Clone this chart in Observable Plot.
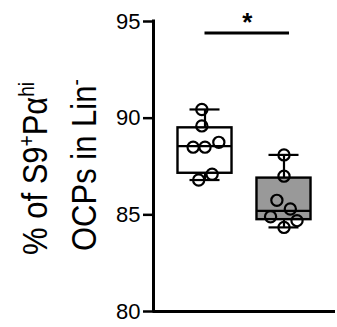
<!DOCTYPE html>
<html>
<head>
<meta charset="utf-8">
<script src="https://cdn.jsdelivr.net/npm/d3@7"></script>
<script src="https://cdn.jsdelivr.net/npm/@observablehq/plot@0.6"></script>
<style>
  html, body { margin: 0; padding: 0; background: #fff; }
  #chart { position: relative; width: 337px; height: 327px; }
  svg { font-family: "Liberation Sans", Arial, sans-serif; }
</style>
</head>
<body>
<div id="chart"></div>
<script>
// Group index (0 = first box, 1 = second box)
const groups = [0, 1];
const groupFill = ["#ffffff", "#999999"];
// Box summaries
const boxMin = [86.8, 84.35];
const boxQ1 = [87.15, 84.75];
const boxMedian = [88.55, 85.2];
const boxQ3 = [89.5, 86.9];
const boxMax = [90.45, 88.1];
// Individual points
const g1Values = [90.45, 89.6, 88.5, 88.5, 88.75, 86.8, 87.1];
const g1Jitter = [-0.04, -0.04, -0.15, 0.0, 0.175, -0.08, 0.09];
const g2Values = [88.1, 87.0, 85.75, 85.3, 84.9, 84.7, 84.35];
const g2Jitter = [0.0, 0.0, -0.09, 0.08, -0.17, 0.165, 0.0];
// Significance bracket
const sigX1 = [0.0];
const sigX2 = [1.07];
const sigY = [94.4];
const sigLabel = ["*"];
const yTicks = [80, 85, 90, 95];

const boxes = groups.map((g, i) => ({
  g, fill: groupFill[i], min: boxMin[i], q1: boxQ1[i], med: boxMedian[i], q3: boxQ3[i], max: boxMax[i]
}));
const points = [
  ...g1Values.map((v, i) => ({ x: 0 + g1Jitter[i], y: v })),
  ...g2Values.map((v, i) => ({ x: 1 + g2Jitter[i], y: v }))
];
const sig = sigX1.map((x1, i) => ({ x1, x2: sigX2[i], y: sigY[i], label: sigLabel[i] }));

const xMin = -0.652, xMax = 1.652;
const bw = 0.342, cw = 0.19;

const plot = Plot.plot({
  width: 337,
  height: 327,
  marginLeft: 153,
  marginRight: 2,
  marginTop: 21,
  marginBottom: 16,
  style: { fontFamily: '"Liberation Sans", Arial, sans-serif', fontSize: "22px", color: "#000", background: "#fff" },
  x: { domain: [xMin, xMax], axis: null },
  y: { domain: [80, 95], axis: null },
  marks: [
    // whiskers
    Plot.ruleX(boxes, { x: "g", y1: "q3", y2: "max", stroke: "#000", strokeWidth: 2.2 }),
    Plot.ruleX(boxes, { x: "g", y1: "min", y2: "q1", stroke: "#000", strokeWidth: 2.2 }),
    Plot.ruleY(boxes, { y: "max", x1: d => d.g - cw, x2: d => d.g + cw, stroke: "#000", strokeWidth: 2.2 }),
    Plot.ruleY(boxes, { y: "min", x1: d => d.g - cw, x2: d => d.g + cw, stroke: "#000", strokeWidth: 2.2 }),
    // boxes
    Plot.rect(boxes, { x1: d => d.g - bw, x2: d => d.g + bw, y1: "q1", y2: "q3", fill: "fill", stroke: "#000", strokeWidth: 2.4 }),
    Plot.ruleY(boxes, { y: "med", x1: d => d.g - bw, x2: d => d.g + bw, stroke: "#000", strokeWidth: 2.2 }),
    // points
    Plot.dot(points, { x: "x", y: "y", r: 5.6, fill: "none", stroke: "#000", strokeWidth: 2.2 }),
    // y axis
    Plot.ruleX([xMin], { y1: 80, y2: 95, stroke: "#000", strokeWidth: 3, strokeLinecap: "square" }),
    Plot.axisY(yTicks, { tickSize: 10, tickPadding: 3, strokeWidth: 2.5, fontSize: 22, label: null, tickFormat: d => String(d) }),
    // x axis line
    Plot.ruleY([80], { stroke: "#000", strokeWidth: 3 }),
    // significance
    Plot.ruleY(sig, { y: "y", x1: "x1", x2: "x2", stroke: "#000", strokeWidth: 3 }),
    Plot.text(sig, { x: d => (d.x1 + d.x2) / 2, y: "y", text: "label", dy: -2, fontSize: 26, fontWeight: "bold", fill: "#000", lineAnchor: "bottom" })
  ]
});

document.getElementById("chart").appendChild(plot);

// Two-line rotated y-axis title with superscripts
const svg = d3.select(plot);
function addLine(x, y, parts) {
  const t = svg.append("text")
    .attr("transform", `translate(${x},${y}) rotate(-90) scale(1,1.12)`)
    .attr("text-anchor", "start")
    .attr("fill", "#000")
    .style("font-family", '"Liberation Sans", Arial, sans-serif')
    .style("font-size", "31px");
  parts.forEach(p => {
    const s = t.append("tspan").text(p.text);
    if (p.sup) s.attr("font-size", "19px").attr("dy", "-12");
    if (p.after) s.attr("dy", "12");
  });
}
addLine(47, 255, [
  { text: "% of S9" }, { text: "+", sup: true }, { text: "P", after: true }, { text: "α" }, { text: "hi", sup: true }
]);
addLine(96, 251, [
  { text: "OCPs in Lin" }, { text: "-", sup: true }
]);
</script>
</body>
</html>
